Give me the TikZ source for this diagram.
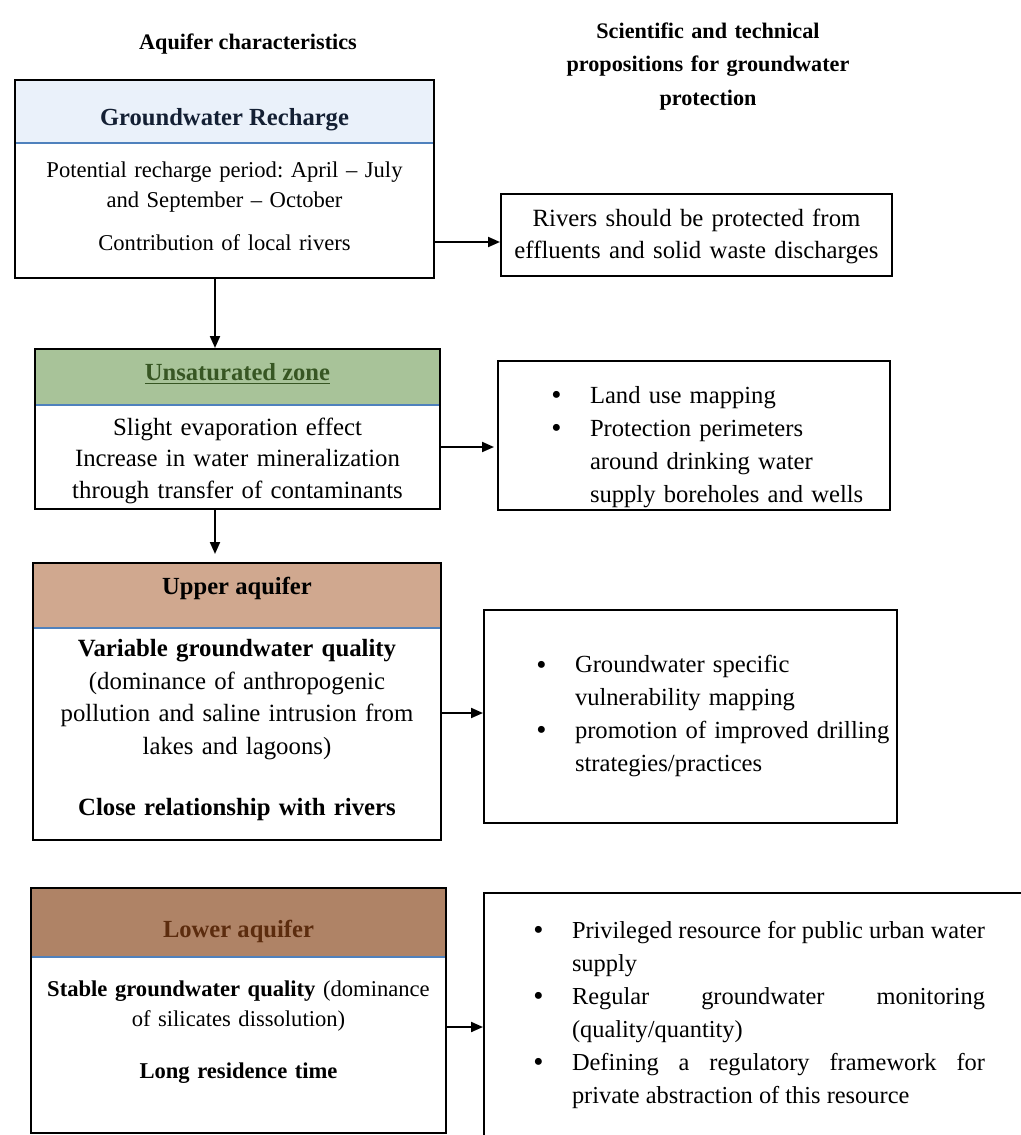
\documentclass[tikz,border=0pt]{standalone}
\usepackage{fontspec}
\setmainfont{Liberation Serif}
\usepackage{enumitem}
\usetikzlibrary{arrows.meta}
\usetikzlibrary{fit}
\frenchspacing
\definecolor{headblue}{RGB}{79,129,189}
\definecolor{rechtext}{RGB}{20,32,52}
\definecolor{rechblue}{RGB}{234,241,250}
\definecolor{zonegreen}{RGB}{168,195,153}
\definecolor{zonetext}{RGB}{55,86,35}
\definecolor{uppertan}{RGB}{208,168,143}
\definecolor{lowerbrown}{RGB}{175,131,102}
\definecolor{lowertext}{RGB}{92,44,14}
\setlist[itemize]{label=\raisebox{-0.6pt}{\fontsize{14.5}{14.5}\selectfont\textbullet}, topsep=0pt, partopsep=0pt, itemsep=0pt, parsep=0pt, labelsep=14.3pt}
\tikzstyle{headband} = [rectangle, draw=headblue, line width=0.8pt, inner sep=0pt, outer sep=0pt,
                        font=\fontsize{12.3}{15}\selectfont\bfseries]
\tikzstyle{bodytext} = [rectangle, inner sep=0pt, outer sep=0pt, align=center]
\tikzstyle{outline} = [rectangle, draw=black, line width=1pt, inner sep=0pt]
\tikzstyle{propbox} = [rectangle, draw=black, line width=1pt, inner sep=0pt]
\tikzstyle{coltitle} = [inner sep=0pt, align=center, font=\fontsize{11.1}{16.5}\selectfont\bfseries]
\tikzstyle{flowarrow} = [-{Triangle[length=6pt,width=5pt]}, line width=1pt]
\begin{document}
\begin{tikzpicture}[x=0.5pt,y=-0.5pt]
    \useasboundingbox (0,0) rectangle (1021,1135);
    \clip (0,0) rectangle (1021,1135);
    \node[coltitle, anchor=base] (lefttitle) at (248,49) {Aquifer characteristics};
    \node[coltitle, text width=170pt, anchor=base] (righttitle) at (708,39) {Scientific and technical\\propositions for groundwater\\protection};
    % aquifer characteristics
    \node[headband, fill=rechblue, text=rechtext, minimum width=209.5pt, text height=22.5pt, text depth=9pt] (rechhead) at (224.5,111.5) {Groundwater Recharge};
    \node[bodytext, text width=209.5pt, text height=17.15pt, text depth=50.35pt, font=\fontsize{11.3}{15}\selectfont] (rech) [below of=rechhead, node distance=49.5pt] {Potential recharge period: April -- July\\and September -- October\\[6.35pt]Contribution of local rivers};
    \node[outline, fit=(rechhead)(rech)] (rechbox) {};
    \node[headband, fill=zonegreen, text=zonetext, minimum width=202.5pt, text height=15.85pt, text depth=12.15pt] (zonehead) at (237.5,377) {\underline{Unsaturated zone}};
    \node[bodytext, text width=202.5pt, text height=15pt, text depth=37pt, font=\fontsize{12.4}{15.75}\selectfont] (zone) [below of=zonehead, node distance=40pt] {Slight evaporation effect\\Increase in water mineralization\\through transfer of contaminants};
    \node[outline, fit=(zonehead)(zone)] (zonebox) {};
    \node[headband, fill=uppertan, minimum width=204pt, text height=15.65pt, text depth=16.85pt] (upperhead) at (237,595.5) {Upper aquifer};
    \node[bodytext, text width=204pt, text height=14.35pt, text depth=91.65pt, font=\fontsize{12.4}{16.25}\selectfont] (upper) [below of=upperhead, node distance=69.25pt] {\textbf{Variable groundwater quality}\\(dominance of anthropogenic\\pollution and saline intrusion from\\lakes and lagoons)\\[14.6pt]\textbf{Close relationship with rivers}};
    \node[outline, fit=(upperhead)(upper)] (upperbox) {};
    \node[headband, fill=lowerbrown, text=lowertext, minimum width=207.5pt, text height=24.65pt, text depth=9.85pt] (lowerhead) at (238.5,922.5) {Lower aquifer};
    \node[bodytext, text width=207.5pt, text height=19.85pt, text depth=68.15pt, font=\fontsize{11.3}{15}\selectfont] (lower) [below of=lowerhead, node distance=61.25pt] {\textbf{Stable groundwater quality} (dominance\\of silicates dissolution)\\[10.65pt]\textbf{Long residence time}};
    \node[outline, fit=(lowerhead)(lower)] (lowerbox) {};
    % propositions
    \node[propbox, text width=195.5pt, text height=16.35pt, text depth=24.65pt, align=center, font=\fontsize{12.4}{15.85}\selectfont] (rivers) at (696.5,235) {Rivers should be protected from\\effluents and solid waste discharges};
    \node[propbox, text width=196pt, text height=4.5pt, text depth=70pt, align=left, font=\fontsize{12.3}{16.5}\selectfont] (landuse) at (694,435.5) {\begin{itemize}[leftmargin=46pt]\item Land use mapping\item Protection perimeters\\around drinking water\\supply boreholes and wells\end{itemize}};
    \node[propbox, text width=206.5pt, text height=15pt, text depth=91.5pt, align=left, font=\fontsize{12.3}{16.4}\selectfont] (vuln) at (690.5,716.5) {\begin{itemize}[leftmargin=45.5pt]\item Groundwater specific\\vulnerability mapping\item promotion of improved drilling\\strategies/practices\end{itemize}};
    \node[propbox, text width=273pt, text height=6pt, text depth=120pt, align=justify, font=\fontsize{12.2}{16.5}\selectfont] (urban) at (757,1019) {\begin{itemize}[leftmargin=44pt, rightmargin=22.5pt]\item Privileged resource for public urban water\linebreak supply\item Regular groundwater monitoring\linebreak (quality/quantity)\item Defining a regulatory framework for\linebreak private abstraction of this resource\end{itemize}};
    \coordinate (spine) at (215,0);
    \draw[flowarrow] (rechbox.south -| spine) -- (zonebox.north -| spine);
    \draw[flowarrow, shorten >=4pt] (zonebox.south -| spine) -- (upperbox.north -| spine);
    \draw[flowarrow] ([yshift=-3.5pt]rivers.west -| rechbox.east) -- ([yshift=-3.5pt]rivers.west);
    \draw[flowarrow, shorten >=1.5pt] ([yshift=-5.75pt]landuse.west -| zonebox.east) -- ([yshift=-5.75pt]landuse.west);
    \draw[flowarrow] ([yshift=1.75pt]vuln.west -| upperbox.east) -- ([yshift=1.75pt]vuln.west);
    \draw[flowarrow] ([yshift=-4pt]urban.west -| lowerbox.east) -- ([yshift=-4pt]urban.west);
  \end{tikzpicture}
\end{document}
